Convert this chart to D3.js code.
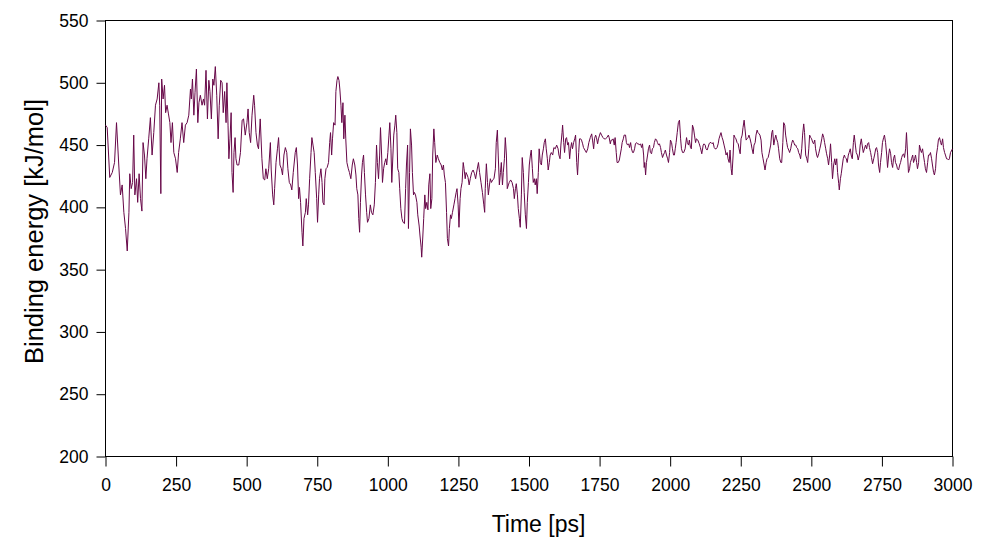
<!DOCTYPE html>
<html>
<head>
<meta charset="utf-8">
<script src="https://cdn.jsdelivr.net/npm/d3@7"></script>
<style>
  body { margin: 0; background: #fff; }
</style>
</head>
<body>
<div id="chart"></div>
<script>
// tick values
const xTicks = [0, 250, 500, 750, 1000, 1250, 1500, 1750, 2000, 2250, 2500, 2750, 3000];
const yTicks = [200, 250, 300, 350, 400, 450, 500, 550];

// [time (ps), binding energy (kJ/mol)]
const samples = [
  [0,466],[6,464],[15,424],[24,428],[32,436],[39,468],[47,434],[53,410],[59,418],[65,396],[71,383],[77,365],[83,396],[86,427],[91,415],[96,420],[100,458],[104,410],[110,423],[114,404],[119,427],[124,407],[129,397],[133,452],[138,442],[143,423],[147,439],[153,455],[159,472],[165,442],[171,460],[177,482],[183,487],[189,500],[192,482],[196,411],[199,503],[204,487],[209,498],[213,476],[218,482],[223,475],[228,468],[232,452],[237,468],[242,444],[248,439],[254,428],[259,444],[265,455],[271,468],[277,452],[283,466],[289,468],[295,474],[301,495],[304,487],[308,503],[313,474],[317,492],[322,511],[327,468],[331,484],
  [336,490],[342,482],[347,487],[351,482],[356,510],[361,471],[366,502],[370,493],[375,471],[380,503],[384,498],[389,513],[394,490],[399,455],[403,482],[408,502],[413,500],[417,476],[422,493],[427,468],[430,500],[434,466],[437,439],[441,455],[445,476],[448,428],[452,412],[455,444],[459,456],[462,439],[466,434],[472,434],[478,444],[484,470],[489,471],[495,458],[501,468],[505,479],[509,460],[514,452],[519,474],[525,490],[528,482],[533,460],[538,450],[542,447],[548,471],[554,439],[559,423],[564,422],[568,431],[573,423],[578,431],[584,452],[587,430],[592,410],[596,402],[599,415],[604,436],[609,447],[613,456],[618,434],[623,431],[627,426],[632,442],[637,448],[642,444],[646,431],[651,420],[656,418],[660,414],[665,428],
  [672,444],[676,448],[680,434],[684,407],[687,416],[691,404],[696,380],[699,369],[703,391],[708,396],[711,407],[716,394],[719,402],[723,423],[728,444],[731,456],[735,450],[739,444],[743,428],[748,407],[751,388],[755,410],[758,423],[763,431],[767,420],[770,404],[774,402],[777,423],[781,431],[785,432],[790,436],[794,452],[797,460],[801,442],[804,455],[808,468],[813,466],[816,493],[820,502],[823,505],[827,502],[830,495],[834,482],[837,468],[841,484],[844,455],[848,474],[851,455],[855,436],[860,431],[864,428],[869,423],[874,434],[878,439],[883,434],[887,426],[890,415],[894,410],[897,391],[900,380],[903,404],[907,426],[910,436],[914,442],[917,428],[921,410],[925,396],[928,388],[933,391],[938,402],[942,396],[947,394],[952,402],[956,420],[960,450],[963,436],[967,423],[971,442],[974,464],[978,442],[981,420],[985,431],[989,436],[993,439],[996,434],[1000,444],[1004,458],[1007,468],
  [1011,447],[1014,420],[1018,442],[1021,458],[1025,466],[1028,474],[1032,460],[1035,431],[1039,428],[1042,415],[1046,399],[1050,391],[1054,388],[1059,387],[1063,415],[1066,434],[1070,450],[1073,383],[1077,428],[1080,463],[1084,450],[1087,428],[1091,410],[1094,412],[1098,410],[1103,404],[1106,394],[1111,385],[1114,377],[1118,368],[1120,360],[1124,377],[1127,391],[1131,410],[1134,399],[1138,404],[1142,398],[1145,418],[1149,427],[1152,399],[1156,407],[1159,442],[1163,463],[1166,452],[1170,436],[1175,442],[1179,439],[1184,436],[1189,434],[1193,430],[1197,434],[1200,426],[1204,420],[1208,396],[1211,375],[1215,369],[1218,383],[1222,394],[1225,391],[1229,396],[1234,402],[1238,407],[1242,412],[1245,415],[1249,402],[1252,384],[1256,407],[1259,415],[1263,420],[1267,436],[1270,431],[1274,423],[1277,428],[1281,426],[1284,424],[1288,418],[1292,423],[1297,428],[1302,430],[1307,427],[1311,423],[1316,430],[1321,436],[1325,428],[1330,420],[1335,412],[1340,402],[1343,396],
  [1345,415],[1349,435],[1353,420],[1356,410],[1360,418],[1363,423],[1367,420],[1371,422],[1376,423],[1381,431],[1384,452],[1388,462],[1391,442],[1395,418],[1399,428],[1402,436],[1406,418],[1409,428],[1413,439],[1416,456],[1420,442],[1423,415],[1427,418],[1430,420],[1435,422],[1440,420],[1445,415],[1448,407],[1452,415],[1455,419],[1459,410],[1462,399],[1466,391],[1469,384],[1473,410],[1476,440],[1480,428],[1483,412],[1487,394],[1491,383],[1494,404],[1498,420],[1501,434],[1505,442],[1508,446],[1512,431],[1515,420],[1519,423],[1522,418],[1526,423],[1529,411],[1533,428],[1536,447],[1540,436],[1544,434],[1547,442],[1551,447],[1554,452],[1558,455],[1561,447],[1565,439],[1568,430],[1572,436],[1575,442],[1579,444],[1584,442],[1588,448],[1593,447],[1598,450],[1603,447],[1606,442],[1610,439],[1613,450],[1617,460],[1619,466],[1623,452],[1626,444],[1630,455],[1633,456],[1637,450],[1640,452],[1644,439],[1647,447],[1651,452],[1654,447],[1658,452],[1662,455],[1665,458],[1669,436],[1672,426],[1676,444],[1679,455],
  [1683,455],[1686,454],[1690,451],[1693,448],[1698,446],[1703,444],[1708,447],[1712,452],[1717,456],[1722,459],[1725,454],[1729,447],[1732,455],[1736,458],[1739,456],[1743,451],[1746,455],[1750,458],[1753,460],[1757,458],[1762,456],[1766,455],[1771,455],[1776,456],[1781,458],[1784,456],[1788,451],[1791,454],[1795,454],[1798,455],[1802,450],[1805,456],[1809,444],[1812,436],[1816,436],[1820,438],[1823,442],[1827,447],[1830,452],[1834,455],[1837,458],[1842,458],[1845,452],[1849,450],[1853,451],[1856,448],[1860,452],[1863,447],[1867,444],[1870,444],[1874,447],[1877,451],[1881,452],[1884,451],[1888,451],[1891,450],[1895,451],[1899,448],[1902,451],[1906,442],[1908,432],[1910,436],[1913,426],[1916,436],[1920,442],[1923,447],[1927,450],[1930,444],[1934,443],[1937,447],[1941,448],[1944,452],[1948,455],[1952,454],[1955,452],[1959,450],[1962,451],[1966,448],[1969,444],[1973,440],[1976,442],[1980,444],[1983,446],[1987,442],[1991,439],[1994,436],[1998,444],[2001,454],[2005,452],[2008,447],[2012,442],[2015,442],
  [2018,447],[2021,452],[2025,460],[2029,468],[2033,470],[2037,455],[2040,447],[2044,444],[2048,444],[2053,447],[2058,456],[2061,452],[2065,450],[2068,454],[2072,448],[2075,447],[2079,466],[2083,463],[2086,458],[2090,452],[2093,455],[2098,454],[2103,451],[2107,448],[2112,443],[2117,450],[2120,451],[2124,450],[2127,447],[2131,446],[2134,448],[2138,451],[2141,452],[2145,452],[2149,451],[2152,452],[2156,448],[2159,447],[2163,447],[2166,448],[2170,451],[2173,455],[2177,458],[2180,460],[2184,456],[2187,454],[2191,450],[2195,446],[2198,442],[2202,444],[2205,439],[2209,436],[2212,446],[2216,431],[2219,426],[2223,442],[2226,458],[2230,456],[2233,455],[2237,452],[2241,451],[2244,447],[2248,443],[2251,455],[2255,458],[2258,464],[2262,470],[2265,463],[2269,454],[2272,455],[2276,456],[2279,458],[2283,455],[2287,451],[2290,447],[2294,443],[2297,450],[2301,452],[2304,458],[2308,462],[2311,460],[2315,459],[2318,458],[2322,454],[2325,444],[2329,439],[2333,434],[2336,430],[2340,436],[2343,439],[2347,440],[2350,443],
  [2356,450],[2360,460],[2363,462],[2367,450],[2370,454],[2374,458],[2377,455],[2381,452],[2384,447],[2388,439],[2392,436],[2395,436],[2399,452],[2402,468],[2406,466],[2409,458],[2413,452],[2416,448],[2420,446],[2423,444],[2427,447],[2430,451],[2434,454],[2438,452],[2441,450],[2445,450],[2448,448],[2452,447],[2455,444],[2459,442],[2462,439],[2466,447],[2469,458],[2473,467],[2476,460],[2480,442],[2484,439],[2487,436],[2491,447],[2494,458],[2498,456],[2501,455],[2505,452],[2508,451],[2512,454],[2515,447],[2519,442],[2522,440],[2526,443],[2530,447],[2533,450],[2537,455],[2540,459],[2544,456],[2547,452],[2551,447],[2554,443],[2558,439],[2561,434],[2565,442],[2568,451],[2572,436],[2575,423],[2579,434],[2583,439],[2586,434],[2590,439],[2593,428],[2597,419],[2599,414],[2603,423],[2606,427],[2610,434],[2613,439],[2617,442],[2620,440],[2624,439],[2627,436],[2631,442],[2634,444],[2638,447],[2641,442],[2645,439],[2649,452],[2652,458],[2656,450],[2659,444],[2663,442],[2666,438],[2670,442],[2673,450],[2677,455],[2680,450],[2684,444],[2688,447],
  [2692,450],[2696,447],[2699,451],[2703,452],[2706,448],[2710,444],[2713,440],[2717,435],[2721,439],[2724,442],[2728,447],[2731,448],[2735,444],[2738,434],[2742,428],[2745,436],[2749,444],[2752,452],[2756,456],[2759,458],[2763,452],[2767,442],[2770,432],[2774,442],[2777,447],[2781,443],[2784,436],[2788,432],[2791,439],[2795,442],[2798,436],[2802,434],[2805,431],[2809,430],[2813,434],[2816,436],[2820,440],[2823,442],[2827,443],[2830,440],[2834,447],[2837,460],[2841,442],[2844,428],[2848,431],[2851,436],[2855,439],[2859,442],[2862,436],[2866,439],[2869,442],[2873,436],[2876,431],[2880,436],[2883,450],[2887,446],[2890,444],[2894,447],[2897,442],[2901,436],[2904,431],[2908,428],[2912,436],[2915,442],[2919,442],[2922,444],[2926,439],[2929,434],[2933,428],[2936,426],[2940,431],[2943,442],[2947,448],[2950,454],[2954,456],[2958,452],[2961,450],[2965,455],[2968,448],[2972,444],[2975,442],[2979,439],[2982,439],[2986,438],[2989,439],[2993,444],[3000,447]
];

const width = 996;
const height = 554;
const font = "'Liberation Sans', Arial, Helvetica, sans-serif";

const svg = d3.select("#chart")
    .append("svg")
    .attr("width", width)
    .attr("height", height)
    .style("font-family", font);

// scales (half pixel so the 1px lines stay sharp)
const x = d3.scaleLinear().domain([0, 3000]).range([105.5, 952.5]);
const y = d3.scaleLinear().domain([200, 550]).range([456.5, 20.5]);

// x axis
const xAxis = svg.append("g")
    .attr("transform", `translate(0, ${y(200)})`)
    .call(d3.axisBottom(x).tickValues(xTicks).tickFormat(d3.format("d"))
        .tickSize(10).tickPadding(12).tickSizeOuter(0));
xAxis.select(".domain").remove();

// y axis
const yAxis = svg.append("g")
    .attr("transform", `translate(${x(0)}, 0)`)
    .call(d3.axisLeft(y).tickValues(yTicks).tickFormat(d3.format("d"))
        .tickSize(9).tickPadding(8).tickSizeOuter(0));
yAxis.select(".domain").remove();

svg.selectAll(".tick text")
    .style("font-family", font)
    .style("font-size", "17.5px")
    .attr("fill", "#000");
svg.selectAll(".tick line").attr("stroke", "#000");

// frame
svg.append("rect")
    .attr("x", x(0))
    .attr("y", y(550))
    .attr("width", x(3000) - x(0))
    .attr("height", y(200) - y(550))
    .attr("fill", "none")
    .attr("stroke", "#000")
    .attr("stroke-width", 1);

// the series
const line = d3.line()
    .x(d => x(d[0]))
    .y(d => y(d[1]));

svg.append("path")
    .datum(samples)
    .attr("d", line)
    .attr("fill", "none")
    .attr("stroke", "#670748")
    .attr("stroke-width", 1);

// axis titles
svg.append("text")
    .attr("x", 538.5)
    .attr("y", 532)
    .attr("text-anchor", "middle")
    .style("font-size", "23px")
    .text("Time [ps]");

svg.append("text")
    .attr("transform", "translate(43, 231.5) rotate(-90)")
    .attr("text-anchor", "middle")
    .style("font-size", "25.5px")
    .text("Binding energy [kJ/mol]");
</script>
</body>
</html>
